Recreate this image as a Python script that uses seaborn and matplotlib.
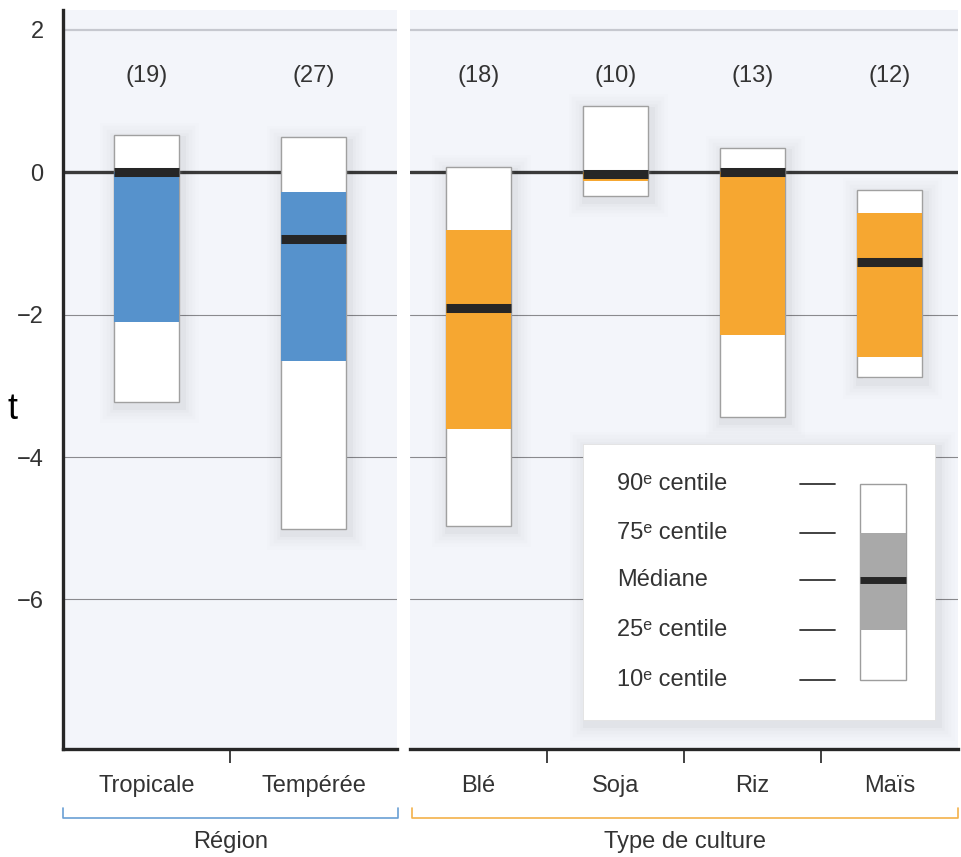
import matplotlib
matplotlib.use("Agg")
import matplotlib.pyplot as plt
import matplotlib.patheffects as pe
from matplotlib.patches import Rectangle
from matplotlib.lines import Line2D
import pandas as pd
import seaborn as sns

# ---- data: yield change percentiles by region and by crop ----
regions = ["Tropicale", "Tempérée"]
region_n = [19, 27]
region_p10 = [-3.22, -5.01]
region_p25 = [-2.10, -2.65]
region_med = [0.0, -0.94]
region_p75 = [0.0, -0.27]
region_p90 = [0.53, 0.49]

crops = ["Blé", "Soja", "Riz", "Maïs"]
crop_n = [18, 10, 13, 12]
crop_p10 = [-4.97, -0.33, -3.43, -2.88]
crop_p25 = [-3.60, -0.12, -2.29, -2.60]
crop_med = [-1.90, -0.02, 0.0, -1.26]
crop_p75 = [-0.81, 0.0, 0.0, -0.57]
crop_p90 = [0.08, 0.93, 0.34, -0.25]

y_ticks = [2, 0, -2, -4, -6]
legend_rows = ["90ᵉ centile", "75ᵉ centile", "Médiane", "25ᵉ centile", "10ᵉ centile"]

BLUE = "#5692cc"
ORANGE = "#f6a731"
PANEL_BG = "#f3f5fa"
DARK = "#262626"
TEXT = "#333333"

sns.set_style("white")
plt.rcParams["font.family"] = ["Liberation Sans", "DejaVu Sans"]

W, H = 961, 857
fig = plt.figure(figsize=(W / 100, H / 100), dpi=100)


def px_axes(x0, x1, y0, y1):
    return fig.add_axes([x0 / W, 1 - y1 / H, (x1 - x0) / W, (y1 - y0) / H])


ax_l = px_axes(63, 397, 10, 749)
ax_r = px_axes(410, 958, 10, 749)

# soft drop shadow for the floating boxes
shadow = [pe.Stroke(linewidth=lw, foreground="black", alpha=a, offset=(2, -3))
          for lw, a in [(24, 0.008), (19, 0.010), (14, 0.013), (9, 0.017), (5, 0.022)]]
shadow += [pe.Normal()]


def panel(ax, cats, n, p10, p25, med, p75, p90, color, width):
    ax.set_facecolor(PANEL_BG)
    df = pd.DataFrame({"cat": cats, "n": n, "p10": p10, "p25": p25,
                       "med": med, "p75": p75, "p90": p90})
    df["outer"] = df["p90"] - df["p10"]
    df["inner"] = df["p75"] - df["p25"]

    # reference lines
    ax.axhline(2, color="#c6c8cf", lw=1.6, zorder=1)
    for g in (-2, -4, -6):
        ax.axhline(g, color="#8a8a8e", lw=0.8, zorder=1)
    ax.axhline(0, color="#3a3a3a", lw=2.4, zorder=1.5)

    # 10th-90th percentile boxes
    sns.barplot(data=df, x="cat", y="outer", bottom=df["p10"].values, ax=ax,
                color="white", width=width, errorbar=None, edgecolor="#a0a0a0",
                linewidth=1.0, zorder=2, saturation=1)
    for p in ax.patches:
        p.set_path_effects(shadow)
    n_outer = len(ax.patches)
    # interquartile boxes
    sns.barplot(data=df, x="cat", y="inner", bottom=df["p25"].values, ax=ax,
                color=color, width=width, errorbar=None, linewidth=0,
                zorder=3, saturation=1)
    for p in ax.patches[n_outer:]:
        p.set_path_effects([])
    # medians
    xs = range(len(cats))
    ax.hlines(df["med"], [x - width / 2 for x in xs], [x + width / 2 for x in xs],
              color=DARK, lw=6.5, zorder=4)
    # sample sizes
    for x, k in zip(xs, df["n"]):
        ax.text(x, 1.35, f"({k})", ha="center", va="center", fontsize=17,
                color=TEXT, zorder=5)

    ax.set_xlim(-0.5, len(cats) - 0.5)
    ax.set_ylim(-8.1, 2.28)
    ax.set_xlabel("")
    ax.set_ylabel("")
    ax.set_xticks(list(xs))
    ax.set_xticklabels(cats, fontsize=17, color=TEXT)
    ax.set_xticks([x + 0.5 for x in range(len(cats) - 1)], minor=True)
    ax.tick_params(axis="x", which="major", length=0, pad=19)
    ax.tick_params(axis="x", which="minor", length=10, width=1.3,
                   color="#333333", direction="out", bottom=True)
    for s in ("top", "right", "left"):
        ax.spines[s].set_visible(False)
    ax.spines["bottom"].set_color(DARK)
    ax.spines["bottom"].set_linewidth(2.4)


panel(ax_l, regions, region_n, region_p10, region_p25, region_med,
      region_p75, region_p90, BLUE, 0.395)
panel(ax_r, crops, crop_n, crop_p10, crop_p25, crop_med,
      crop_p75, crop_p90, ORANGE, 0.48)

ax_l.spines["left"].set_visible(True)
ax_l.spines["left"].set_color(DARK)
ax_l.spines["left"].set_linewidth(2.4)
ax_l.set_yticks(y_ticks)
ax_l.set_yticklabels([f"{v}".replace("-", "\u2212") for v in y_ticks],
                     fontsize=17, color=TEXT)
ax_l.tick_params(axis="y", length=0, pad=14)
ax_r.set_yticks([])

# legend panel
tr = ax_r.transAxes


def ax_x(px):
    return (px - 410) / 548


def ax_y(py):
    return (749 - py) / 739


ax_r.add_patch(Rectangle((ax_x(583), ax_y(720)), ax_x(935) - ax_x(583),
                         ax_y(444) - ax_y(720), transform=tr, facecolor="white",
                         edgecolor="#e2e2e2", lw=0.6, zorder=6,
                         path_effects=shadow))
rows_y = [484, 533, 580, 630, 680]
for label, py in zip(legend_rows, rows_y):
    ax_r.text(ax_x(617), ax_y(py), label, transform=tr, fontsize=17,
              color=TEXT, va="center", ha="left", zorder=7)
    ax_r.add_line(Line2D([ax_x(800), ax_x(835)], [ax_y(py), ax_y(py)],
                         transform=tr, color=TEXT, lw=1.3, zorder=7))
bx0, bx1 = ax_x(860), ax_x(906)
ax_r.add_patch(Rectangle((bx0, ax_y(680)), bx1 - bx0, ax_y(484) - ax_y(680),
                         transform=tr, facecolor="white", edgecolor="#9d9d9d",
                         lw=1.0, zorder=7))
ax_r.add_patch(Rectangle((bx0, ax_y(630)), bx1 - bx0, ax_y(533) - ax_y(630),
                         transform=tr, facecolor="#a9a9a9", lw=0, zorder=8))
ax_r.add_line(Line2D([bx0, bx1], [ax_y(580), ax_y(580)], transform=tr,
                     color=DARK, lw=5, zorder=9, solid_capstyle="butt"))


# group brackets under the category labels
def bracket(x0, x1, color, label):
    y = 1 - 818 / H
    y_up = 1 - 808 / H
    fig.add_artist(Line2D([x0 / W, x0 / W, x1 / W, x1 / W], [y_up, y, y, y_up],
                          transform=fig.transFigure, color=color, lw=1.2))
    fig.text((x0 + x1) / 2 / W, 1 - 842 / H, label, ha="center", va="center",
             fontsize=17, color=TEXT)


bracket(63, 398, "#6a9fd4", "Région")
bracket(412, 958, "#f3b24a", "Type de culture")

fig.text(13 / W, 1 - 410 / H, "t", ha="center", va="center", fontsize=26,
         color="black")

fig.savefig("out.png", dpi=100, facecolor="white")
